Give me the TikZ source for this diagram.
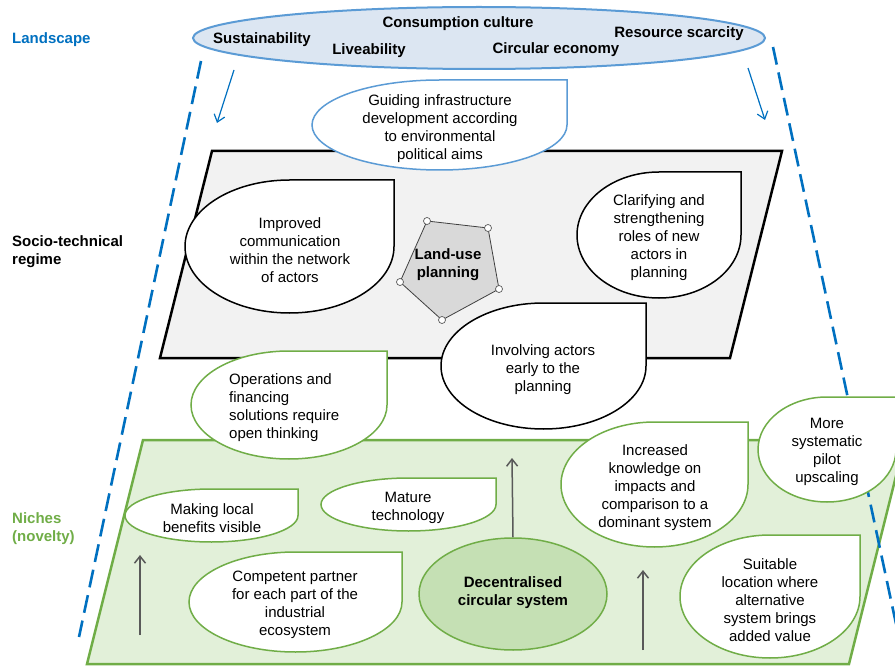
\documentclass[tikz,border=0pt]{standalone}
\usepackage{fontspec}
\setmainfont{Liberation Sans}
\usetikzlibrary{arrows.meta,shapes.geometric}
\definecolor{lblue}{HTML}{0070C0}
\definecolor{mblue}{HTML}{5B9BD5}
\definecolor{ellfill}{HTML}{DCE6F2}
\definecolor{regfill}{HTML}{F2F2F2}
\definecolor{pentfill}{HTML}{D9D9D9}
\definecolor{nichefill}{HTML}{E2F0D9}
\definecolor{gborder}{HTML}{70AD47}
\definecolor{decfill}{HTML}{C5E0B4}
\definecolor{garrow}{HTML}{595959}
\newcommand{\tdrop}[5]{%
 \pgfmathsetmacro\tcx{(#1+#3)/2}%
 \pgfmathsetmacro\tcy{(#2+#4)/2}%
 \pgfmathsetmacro\tkx{0.5523*(#3-#1)/2}%
 \pgfmathsetmacro\tky{0.5523*(#4-#2)/2}%
 \path[#5] (#1,\tcy) .. controls (#1,\tcy-\tky) and (\tcx-\tkx,#2) .. (\tcx,#2) -- (#3,#2) -- (#3,\tcy) .. controls (#3,\tcy+\tky) and (\tcx+\tkx,#4) .. (\tcx,#4) .. controls (\tcx-\tkx,#4) and (#1,\tcy+\tky) .. (#1,\tcy) -- cycle;}
\tikzset{
 txt/.style={align=center, inner sep=0pt, text=black, yshift=-2pt},
 bltxt/.style={inner sep=0pt, yshift=-2pt, font=\fontsize{15}{18}\selectfont\bfseries},
 blackdrop/.style={draw=black, fill=white, line width=1.5pt},
 greendrop/.style={draw=gborder, fill=white, line width=1.5pt},
 bluedrop/.style={draw=mblue, fill=white, line width=1.5pt},
 bluedash/.style={draw=lblue, line width=2.6pt, dash pattern=on 18pt off 8pt},
 bluearrow/.style={draw=lblue, line width=1.2pt, -{Straight Barb[length=7pt,width=11pt]}},
 grayarrow/.style={draw=garrow, line width=1.5pt, -{Straight Barb[length=7pt,width=11pt]}},
 vtx/.style={circle, draw=garrow, fill=white, line width=0.7pt, inner sep=0pt, minimum size=7pt}
}
\begin{document}
\begin{tikzpicture}[x=1pt, y=-1pt, font=\fontsize{15}{18}\selectfont]
\useasboundingbox (0,0) rectangle (895,666);
% regime and niches planes
\draw[fill=regfill, draw=black, line width=2.5pt, line join=miter] (212,151) -- (782,151) -- (730,358) -- (160,358) -- cycle;
\draw[fill=nichefill, draw=gborder, line width=2.5pt] (143,440) -- (905,440) -- (849,664) -- (87,664) -- cycle;
% dashed boundaries
\coordinate (dl1) at (201,61);
\coordinate (dl2) at (79,637);
\coordinate (dr1) at (773,47);
\coordinate (dr2) at (908,680);
\draw[bluedash] (dl1) -- (dl2);
\draw[bluedash] (dr1) -- (dr2);
% landscape ellipse
\node[ellipse, draw=mblue, fill=ellfill, line width=2pt, minimum width=572pt, minimum height=62pt, inner sep=0pt] (land) at (479,38) {};
\node[bltxt] (t1) at (458,22) {Consumption culture};
\node[bltxt] (t2) at (262,38) {Sustainability};
\node[bltxt] (t3) at (369,49) {Liveability};
\node[bltxt] (t4) at (556,48) {Circular economy};
\node[bltxt] (t5) at (679,32) {Resource scarcity};
% blue arrows
\coordinate (ba1) at (234,70);
\coordinate (ba2) at (217,123);
\coordinate (ba3) at (748,68);
\coordinate (ba4) at (765,120);
\draw[bluearrow] (ba1) -- (ba2);
\draw[bluearrow] (ba3) -- (ba4);
% side labels
\node[bltxt, text=lblue, anchor=west] (lland) at (12,38) {Landscape};
\node[bltxt, anchor=west, align=left] (lreg) at (12,250) {Socio-technical\\regime};
\node[bltxt, text=gborder, anchor=west, align=left] (lniche) at (12,527) {Niches\\(novelty)};
% teardrop shapes
\tdrop{312}{80}{567}{170}{bluedrop}
\node[txt] (guide) at (440,127) {Guiding infrastructure\\development according\\to environmental\\political aims};
\tdrop{185}{180}{394}{313}{blackdrop}
\node[txt] (impr) at (290,248) {Improved\\communication\\within the network\\of actors};
\tdrop{577}{172}{741}{298}{blackdrop}
\node[txt] (clar) at (659,236) {Clarifying and\\strengthening\\roles of new\\actors in\\planning};
% pentagon
\coordinate (p1) at (427,221);
\coordinate (p2) at (488,228);
\coordinate (p3) at (499,289);
\coordinate (p4) at (442,320);
\coordinate (p5) at (400,282);
\draw[fill=pentfill, draw=black!75, line width=0.8pt] (p1) -- (p2) -- (p3) -- (p4) -- (p5) -- cycle;
\foreach \p in {p1,p2,p3,p4,p5} \node[vtx] at (\p) {};
\node[txt, font=\fontsize{15}{18}\selectfont\bfseries] (lup) at (448,263) {Land-use\\planning};
\tdrop{441}{303}{646}{429}{blackdrop}
\node[txt] (invol) at (543,368) {Involving actors\\early to the\\planning};
\tdrop{191}{351}{387}{459}{greendrop}
\node[txt, align=left, anchor=west] (oper) at (229,406) {Operations and\\financing\\solutions require\\open thinking};
\tdrop{125}{489}{298}{542}{greendrop}
\node[txt] (local) at (212,516) {Making local\\benefits visible};
\tdrop{321}{478}{496}{531}{greendrop}
\node[txt] (mature) at (408,506) {Mature\\technology};
\tdrop{189}{552}{402}{652}{greendrop}
\node[txt] (comp) at (295,603) {Competent partner\\for each part of the\\industrial\\ecosystem};
\tdrop{561}{422}{748}{547}{greendrop}
\node[txt] (incr) at (655,486) {Increased\\knowledge on\\impacts and\\comparison to a\\dominant system};
\tdrop{758}{397}{896}{502}{greendrop}
\node[txt] (pilot) at (827,450) {More\\systematic\\pilot\\upscaling};
\tdrop{680}{535}{860}{658}{greendrop}
\node[txt] (suit) at (770,598) {Suitable\\location where\\alternative\\system brings\\added value};
% decentralised system
\node[ellipse, draw=gborder, fill=decfill, line width=1.5pt, minimum width=188pt, minimum height=112pt, inner sep=0pt] (dec) at (513,594) {};
\node[txt, font=\fontsize{15}{18}\selectfont\bfseries] (dect) at (513,591) {Decentralised\\circular system};
% gray arrows
\coordinate (ga1) at (140,635);
\coordinate (ga2) at (140,555);
\coordinate (ga3) at (512,458);
\coordinate (ga4) at (643,650);
\coordinate (ga5) at (643,570);
\draw[grayarrow] (ga1) -- (ga2);
\draw[grayarrow] (dec.north) -- (ga3);
\draw[grayarrow] (ga4) -- (ga5);
\end{tikzpicture}
\end{document}
